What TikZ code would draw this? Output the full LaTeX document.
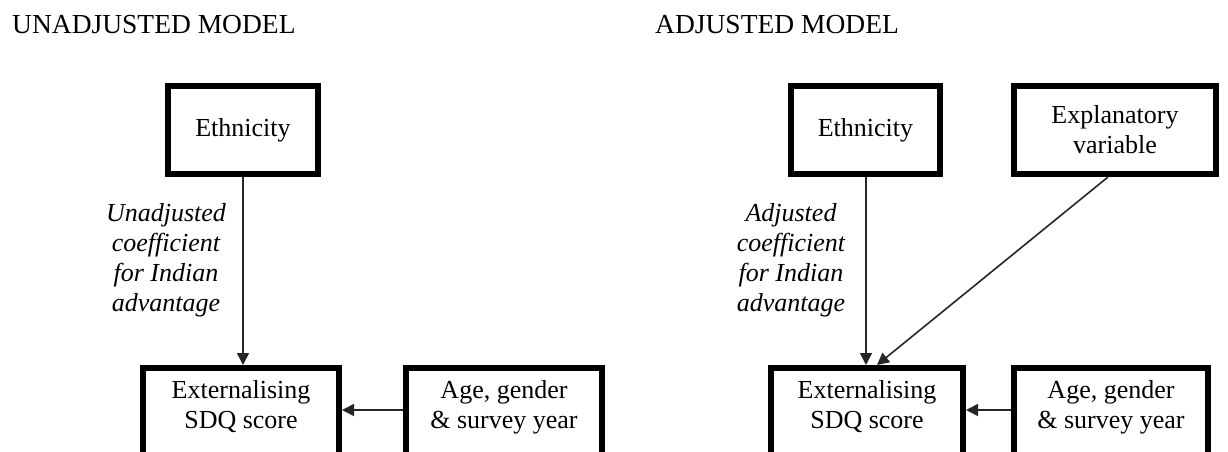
\documentclass[tikz,border=0pt]{standalone}
\usepackage{fontspec}
\setmainfont{Liberation Serif}
\usetikzlibrary{arrows.meta}

\tikzset{
  box/.style={draw=black, line width=6pt, inner sep=0pt, fill=white},
  boxtext/.style={align=center, inner sep=0pt, font=\fontsize{26}{30}\selectfont},
  coeff/.style={align=center, inner sep=0pt, font=\fontsize{26}{30}\selectfont\itshape},
  heading/.style={anchor=base west, inner sep=0pt, font=\fontsize{27.5}{30}\selectfont},
  arr/.style={draw=black!85, line width=1.6pt, -{Triangle[length=12pt,width=12pt]}},
}

\begin{document}
\begin{tikzpicture}[x=1pt,y=-1pt]
  \useasboundingbox (0,0) rectangle (1228,452);
  \clip (0,0) rectangle (1228,452);

  % headings
  \node[heading] (tleft) at (12,34) {UNADJUSTED MODEL};
  \node[heading] (tright) at (655,34) {ADJUSTED MODEL};

  % ---- unadjusted model ----
  \node[box, minimum width=150pt, minimum height=88pt] (eth1) at (243,130) {};
  \node[boxtext] (eth1t) at (eth1) {Ethnicity};
  \node[box, minimum width=196pt, minimum height=110pt, anchor=north] (ext1) at (241,365) {};
  \node[boxtext] (ext1t) at (241,407) {Externalising\\SDQ score};
  \node[box, minimum width=196pt, minimum height=110pt, anchor=north] (age1) at (504,365) {};
  \node[boxtext] (age1t) at (504,407) {Age, gender\\\&~survey year};
  \node[coeff] (lab1) at (166,260) {Unadjusted\\coefficient\\for Indian\\advantage};

  \draw[arr] (eth1.south) -- (eth1.south |- ext1.north);
  \coordinate (h1) at (0,410);
  \draw[arr] (age1.west |- h1) -- (ext1.east |- h1);

  % ---- adjusted model ----
  \node[box, minimum width=149pt, minimum height=88pt] (eth2) at (865.5,130) {};
  \node[boxtext] (eth2t) at (eth2) {Ethnicity};
  \node[box, minimum width=202pt, minimum height=88pt] (expl) at (1115,130) {};
  \node[boxtext] (explt) at (expl) {Explanatory\\variable};
  \node[box, minimum width=192pt, minimum height=110pt, anchor=north] (ext2) at (867,365) {};
  \node[boxtext] (ext2t) at (867,407) {Externalising\\SDQ score};
  \node[box, minimum width=194pt, minimum height=110pt, anchor=north] (age2) at (1111,365) {};
  \node[boxtext] (age2t) at (1111,407) {Age, gender\\\&~survey year};
  \node[coeff] (lab2) at (791,260) {Adjusted\\coefficient\\for Indian\\advantage};

  \draw[arr] (eth2.south -| 866,0) -- (ext2.north -| 866,0);
  \draw[arr] ([xshift=-7pt]expl.south) -- ([xshift=10pt]ext2.north);
  \coordinate (h2) at (0,410);
  \draw[arr] (age2.west |- h2) -- (ext2.east |- h2);
\end{tikzpicture}
\end{document}
